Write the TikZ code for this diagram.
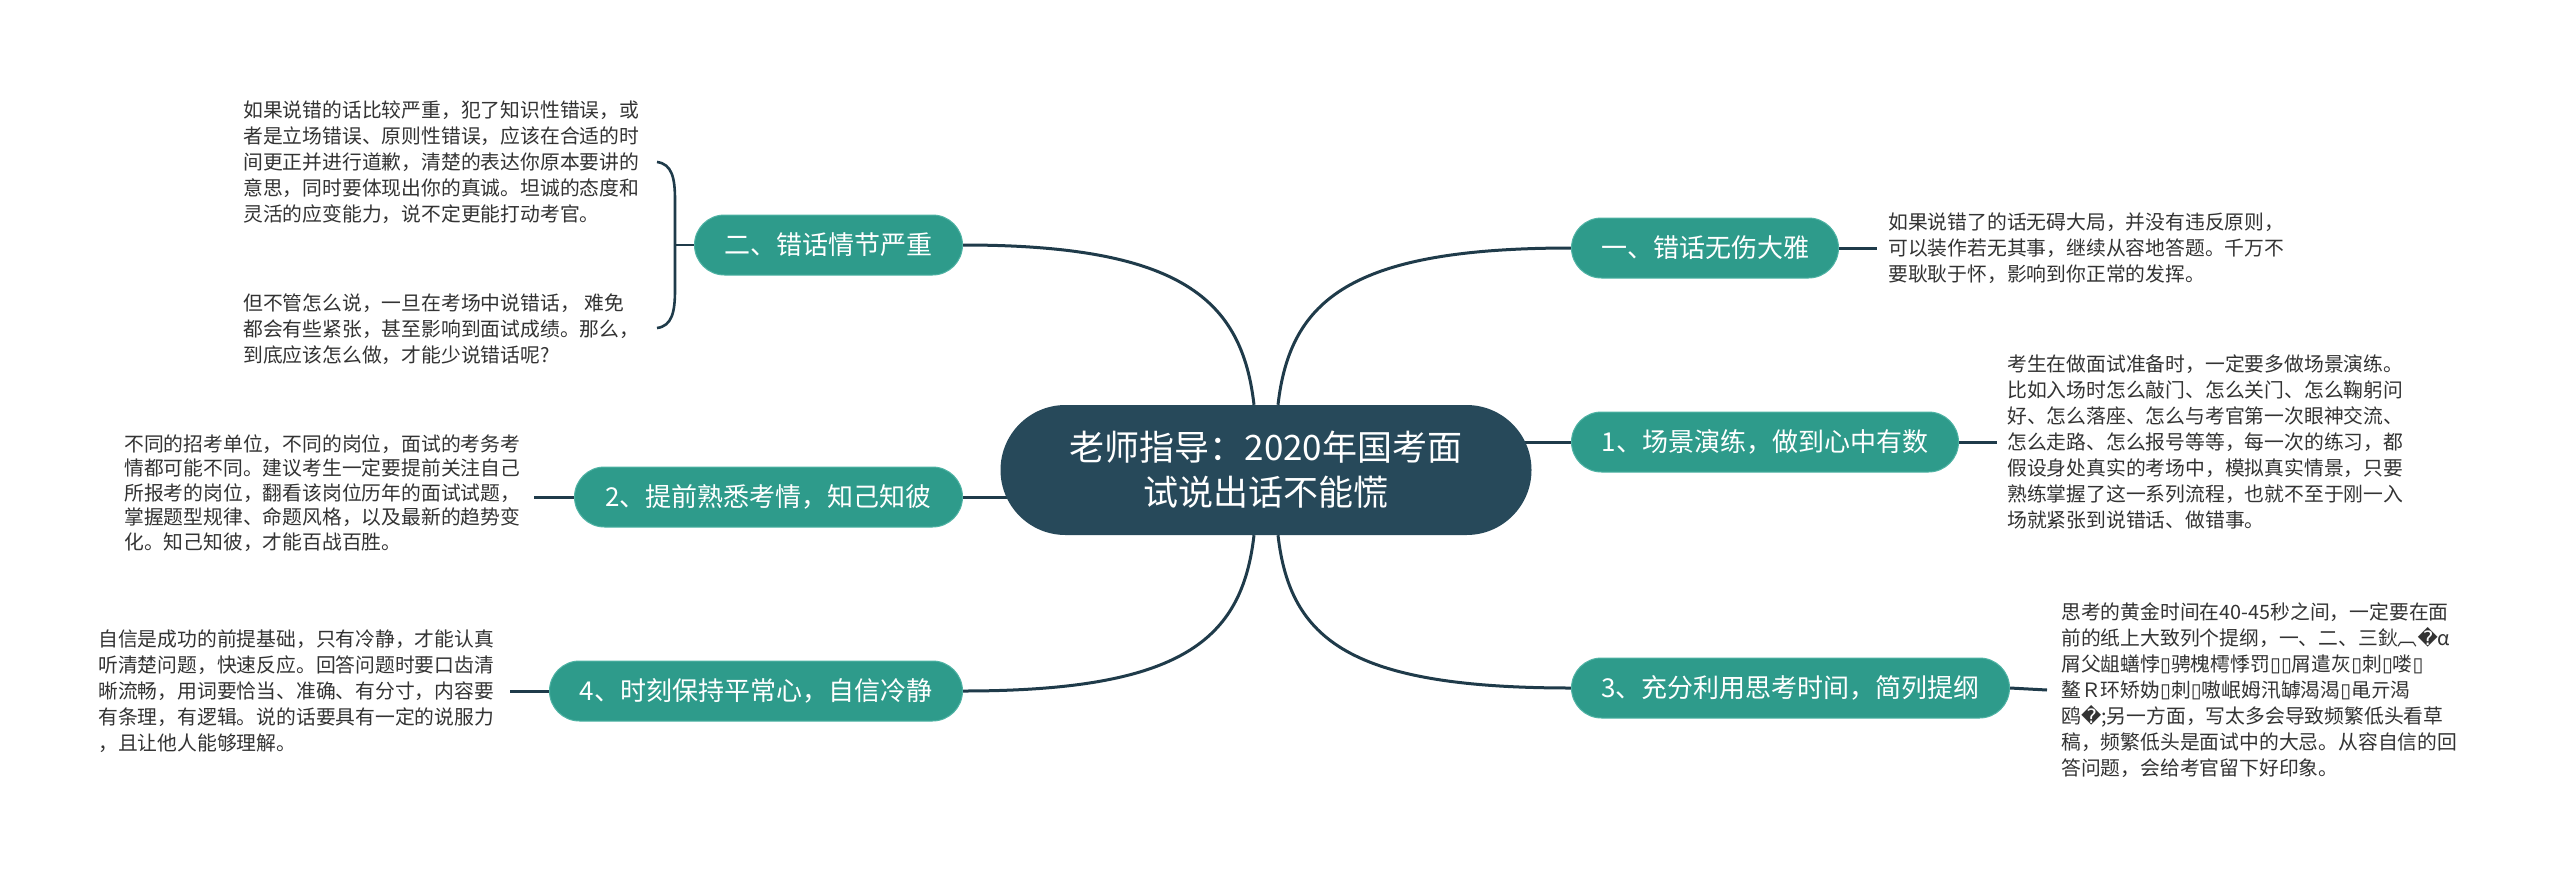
\documentclass[tikz,border=0pt]{standalone}
\usepackage{fontspec}
\setmainfont{Noto Sans CJK SC}
\newfontfamily\djv{DejaVu Sans}
\usetikzlibrary{backgrounds}
\definecolor{centerfill}{HTML}{27495A}
\definecolor{branchfill}{HTML}{2E9B8B}
\definecolor{branchedge}{HTML}{4FB3A4}
\definecolor{linkcol}{HTML}{1F3B4A}
\definecolor{notecol}{HTML}{333333}
\newcommand\tofu{{\djv ▯}}
\newcommand\repl{{\djv �}}
\tikzset{
  centerbox/.style={fill=centerfill, rounded corners=65pt, minimum width=531pt, minimum height=130pt,
    text=white, font=\fontsize{35}{45}\selectfont, align=center, inner sep=0pt},
  branchbox/.style={fill=branchfill, draw=branchedge, line width=1pt, rounded corners=30pt,
    minimum height=60pt, inner xsep=0pt, inner ysep=0pt, text=white, font=\fontsize{26}{30}\selectfont},
  notetext/.style={text=notecol, align=left, inner sep=0pt, anchor=west, font=\fontsize{19.8}{26}\selectfont},
  notetight/.style={notetext, font=\fontsize{19.8}{24.5}\selectfont},
  link/.style={draw=linkcol, line width=3pt},
}
\begin{document}
\begin{tikzpicture}[x=1pt,y=-1pt]
\useasboundingbox (0,0) rectangle (2560,876);

% central node
\node[centerbox] (cen) at (1266,470) {老师指导：2020年国考面\\试说出话不能慌};

% right branches
\node[branchbox, minimum width=267pt, anchor=west] (b1) at (1571,248) {一、错话无伤大雅};
\node[branchbox, minimum width=387pt, anchor=west] (b2) at (1571,442) {1、场景演练，做到心中有数};
\node[branchbox, minimum width=438pt, anchor=west] (b3) at (1571,688) {3、充分利用思考时间，简列提纲};

% left branches
\node[branchbox, minimum width=268pt, anchor=east] (l1) at (963,245) {二、错话情节严重};
\node[branchbox, minimum width=388pt, anchor=east] (l2) at (963,497) {2、提前熟悉考情，知己知彼};
\node[branchbox, minimum width=413pt, anchor=east] (l3) at (963,691) {4、时刻保持平常心，自信冷静};

% notes right
\node[notetext] (n1) at (1888,248) {如果说错了的话无碍大局，并没有违反原则，\\可以装作若无其事，继续从容地答题。千万不\\要耿耿于怀，影响到你正常的发挥。};
\node[notetext] (n2) at (2007,442) {考生在做面试准备时，一定要多做场景演练。\\比如入场时怎么敲门、怎么关门、怎么鞠躬问\\好、怎么落座、怎么与考官第一次眼神交流、\\怎么走路、怎么报号等等，每一次的练习，都\\假设身处真实的考场中，模拟真实情景，只要\\熟练掌握了这一系列流程，也就不至于刚一入\\场就紧张到说错话、做错事。};
\node[notetext] (n3) at (2061,690) {思考的黄金时间在40-45秒之间，一定要在面\\前的纸上大致列个提纲，一、二、三鈥︹\repl α\\屑父龃蟮悖\tofu 骋槐樗悸罚\tofu\tofu 屑遣灰\tofu 刺\tofu 喽\tofu\\鳌Ｒ环矫妫\tofu 刺\tofu 嗷岷姆汛罅渴渴\tofu 黾亓渴\\鸥\repl;另一方面，写太多会导致频繁低头看草\\稿，频繁低头是面试中的大忌。从容自信的回\\答问题，会给考官留下好印象。};

% notes left
\node[notetext] (m1a) at (243,162) {如果说错的话比较严重，犯了知识性错误，或\\者是立场错误、原则性错误，应该在合适的时\\间更正并进行道歉，清楚的表达你原本要讲的\\意思，同时要体现出你的真诚。坦诚的态度和\\灵活的应变能力，说不定更能打动考官。};
\node[notetext] (m1b) at (243,329) {但不管怎么说，一旦在考场中说错话， 难免\\都会有些紧张，甚至影响到面试成绩。那么，\\到底应该怎么做，才能少说错话呢?};
\node[notetight] (m2) at (124,493) {不同的招考单位，不同的岗位，面试的考务考\\情都可能不同。建议考生一定要提前关注自己\\所报考的岗位，翻看该岗位历年的面试试题，\\掌握题型规律、命题风格，以及最新的趋势变\\化。知己知彼，才能百战百胜。};
\node[notetext] (m3) at (98,691) {自信是成功的前提基础，只有冷静，才能认真\\听清楚问题，快速反应。回答问题时要口齿清\\晰流畅，用词要恰当、准确、有分寸，内容要\\有条理，有逻辑。说的话要具有一定的说服力\\，且让他人能够理解。};

% bracket for 二
\coordinate (brtop) at (657,162);
\coordinate (brbot) at (657,328);
\coordinate (brmid) at (675,245);
\draw[link, line width=2.6pt] (brtop) .. controls (672,164) and (675,178) .. (675,200) -- (675,290) .. controls (675,312) and (672,326) .. (brbot);
\draw[link, line width=2.6pt] (brmid) -- (l1.west);

% note connectors
\draw[link] (b1.east) -- ([xshift=-11pt]n1.west);
\draw[link] (b2.east) -- ([xshift=-10pt]n2.west);
\draw[link] (b3.east) -- ([xshift=-14pt]n3.west);
\draw[link] ([xshift=14pt]m2.east |- l2.west) -- (l2.west);
\draw[link] ([xshift=16pt]m3.east |- l3.west) -- (l3.west);

\begin{pgfonlayer}{background}
\fill[white] (0,0) rectangle (2560,876);
\draw[link] ([xshift=12pt]cen.north) .. controls (1290,300) and (1350,248) .. (b1.west);
\draw[link] ([xshift=-12pt]cen.north) .. controls (1242,300) and (1182,245) .. (l1.east);
\draw[link] ([xshift=12pt]cen.south) .. controls (1290,640) and (1350,688) .. (b3.west);
\draw[link] ([xshift=-12pt]cen.south) .. controls (1242,640) and (1182,691) .. (l3.east);
\draw[link] (b2.west) -- (cen.center |- b2.west);
\draw[link] (l2.east) -- (cen.center |- l2.east);
\end{pgfonlayer}
\end{tikzpicture}
\end{document}
